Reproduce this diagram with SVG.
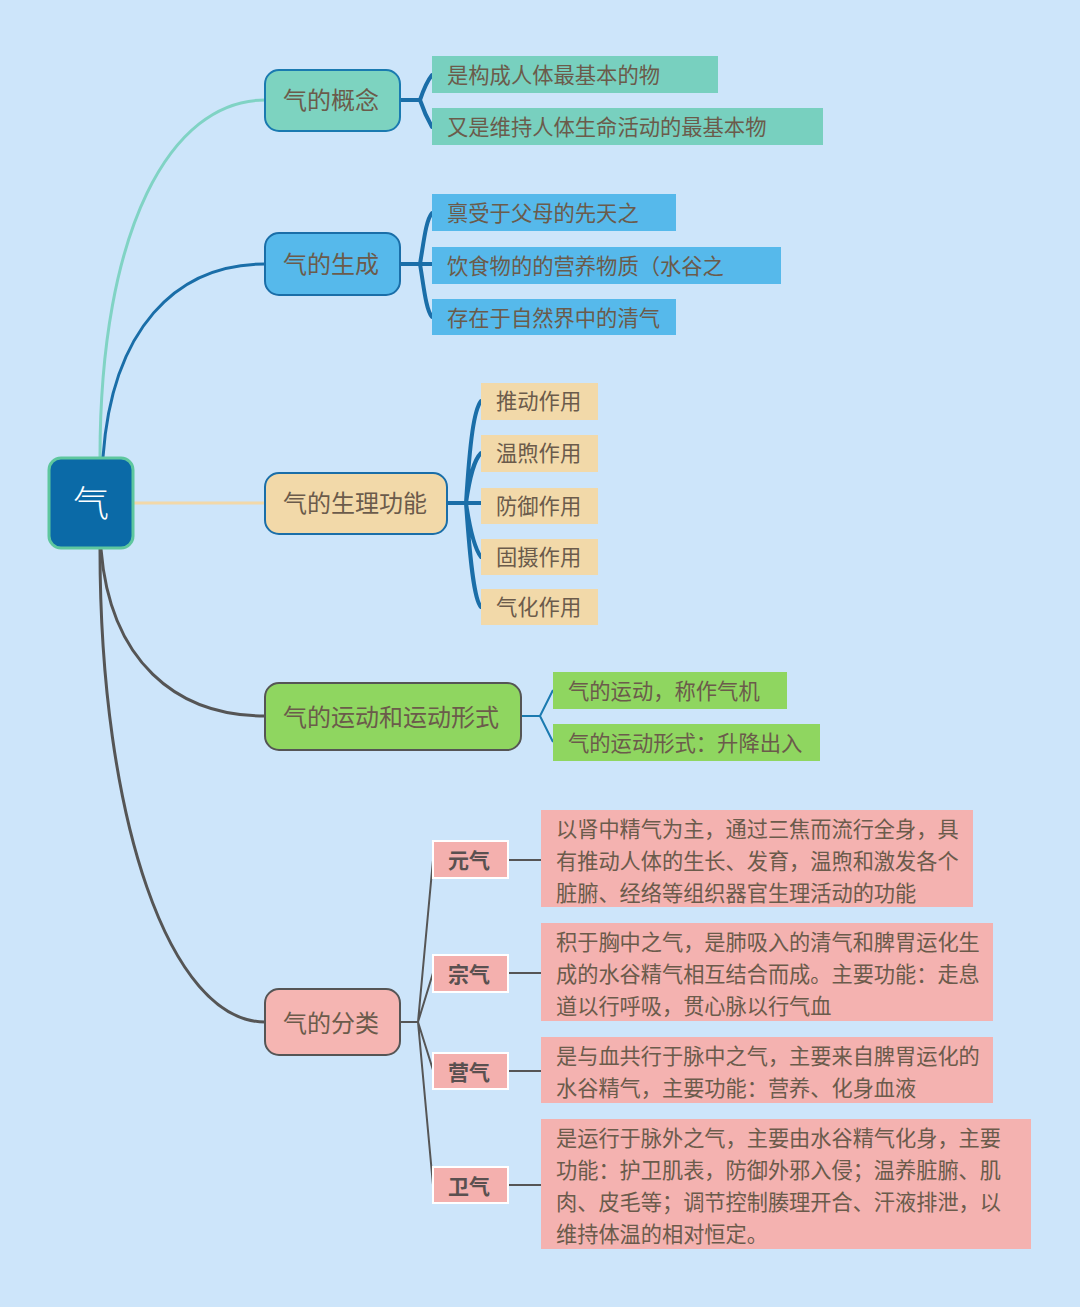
<svg xmlns="http://www.w3.org/2000/svg" width="1080" height="1307" viewBox="0 0 1080 1307">
<style>
text{font-family:"Noto Sans CJK SC","Noto Sans",sans-serif;fill:#6b5b4b;}
.n{font-size:24px;dominant-baseline:central;transform:translateY(-2px);}
.c{font-size:21.3px;dominant-baseline:central;transform:translateY(-2px);}
.d{font-size:21.2px;}
.k{font-size:21px;font-weight:bold;fill:#5a5050;dominant-baseline:central;text-anchor:middle;transform:translateY(-1px);}
.br{fill:none;stroke:#1a6ea8;stroke-width:4;stroke-linecap:round;}
.gl{fill:none;stroke:#555;stroke-width:2;}
</style>
<rect width="1080" height="1307" fill="#cde5fa"/>
<g id="connectors">
<path d="M100,457 C100,230 170,100 265,100" fill="none" stroke="#80d3c4" stroke-width="3"/>
<path d="M103,457 C112,330 175,264 265,264" fill="none" stroke="#1a6ea8" stroke-width="3"/>
<path d="M134,503 H265" fill="none" stroke="#f2d8a8" stroke-width="3"/>
<path d="M101,549 C110,660 175,716 265,716" fill="none" stroke="#555" stroke-width="3"/>
<path d="M100,549 C100,820 170,1022 265,1022" fill="none" stroke="#555" stroke-width="3"/>
<path class="br" d="M400,100 H420 M420,100 C424,88 428,80 432,75 M420,100 C424,112 428,120 432,127"/>
<path class="br" d="M400,264 H420 M420,264 C424,240 426,220 432,213 M420,264 C424,288 426,310 432,317 M420,264 H432"/>
<path class="br" d="M447,503 H466 M466,503 C470,440 474,410 481,401 M466,503 C470,475 474,460 481,453 M466,503 H481 M466,503 C470,530 474,548 481,557 M466,503 C470,560 474,600 481,607"/>
<path d="M521,716 H540 M540,716 L553,690 M540,716 L553,742" fill="none" stroke="#1a7ab0" stroke-width="2"/>
<path class="gl" d="M400,1022 H418 M418,1022 L433,860 M418,1022 L433,973 M418,1022 L433,1070 M418,1022 L433,1185"/>
<path class="gl" d="M508,860 H541 M508,973 H541 M508,1071 H541 M508,1185 H541"/>
</g>
<g id="root">
<rect x="49" y="458" width="84" height="90" rx="12" fill="#0b6aa7" stroke="#5ec79e" stroke-width="3"/>
<text x="91" y="501" font-size="36" font-weight="300" text-anchor="middle" dominant-baseline="central" style="fill:#fff">气</text>
</g>
<g id="n1">
<rect x="265" y="70" width="135" height="61" rx="14" fill="#7dd3c0" stroke="#1a7ab0" stroke-width="2"/>
<text class="n" x="283" y="100">气的概念</text>
</g>
<g id="n1a"><rect x="432" y="56" width="286" height="37" fill="#78d0bf"/><text class="c" x="447" y="75">是构成人体最基本的物</text></g>
<g id="n1b"><rect x="432" y="108" width="391" height="37" fill="#78d0bf"/><text class="c" x="447" y="127">又是维持人体生命活动的最基本物</text></g>
<g id="n2">
<rect x="265" y="233" width="135" height="62" rx="14" fill="#56b9eb" stroke="#1a6ea8" stroke-width="2"/>
<text class="n" x="283" y="264">气的生成</text>
</g>
<g id="n2a"><rect x="432" y="194" width="244" height="37" fill="#56b9eb"/><text class="c" x="447" y="213">禀受于父母的先天之</text></g>
<g id="n2b"><rect x="432" y="247" width="349" height="37" fill="#56b9eb"/><text class="c" x="447" y="266">饮食物的的营养物质（水谷之</text></g>
<g id="n2c"><rect x="432" y="299" width="244" height="36" fill="#56b9eb"/><text class="c" x="447" y="318">存在于自然界中的清气</text></g>
<g id="n3">
<rect x="265" y="473" width="182" height="61" rx="14" fill="#f2d9a9" stroke="#1a6ea8" stroke-width="2"/>
<text class="n" x="283" y="503">气的生理功能</text>
</g>
<g id="n3a"><rect x="481" y="383" width="117" height="37" fill="#f2d9a9"/><text class="c" x="496" y="401">推动作用</text></g>
<g id="n3b"><rect x="481" y="435" width="117" height="37" fill="#f2d9a9"/><text class="c" x="496" y="453">温煦作用</text></g>
<g id="n3c"><rect x="481" y="488" width="117" height="36" fill="#f2d9a9"/><text class="c" x="496" y="506">防御作用</text></g>
<g id="n3d"><rect x="481" y="539" width="117" height="36" fill="#f2d9a9"/><text class="c" x="496" y="557">固摄作用</text></g>
<g id="n3e"><rect x="481" y="589" width="117" height="36" fill="#f2d9a9"/><text class="c" x="496" y="607">气化作用</text></g>
<g id="n4">
<rect x="265" y="683" width="256" height="67" rx="14" fill="#8fd660" stroke="#555" stroke-width="2"/>
<text class="n" x="283" y="717">气的运动和运动形式</text>
</g>
<g id="n4a"><rect x="553" y="672" width="234" height="37" fill="#8fd660"/><text class="c" x="568" y="691">气的运动，称作气机</text></g>
<g id="n4b"><rect x="553" y="724" width="267" height="37" fill="#8fd660"/><text class="c" x="568" y="743">气的运动形式：升降出入</text></g>
<g id="n5">
<rect x="265" y="989" width="135" height="66" rx="14" fill="#f5b5b2" stroke="#555" stroke-width="2"/>
<text class="n" x="283" y="1023">气的分类</text>
</g>
<g id="k1"><rect x="433" y="841" width="75" height="37" fill="#f4b0ae" stroke="#fff" stroke-width="2"/><text class="k" x="469" y="860">元气</text></g>
<g id="k2"><rect x="433" y="955" width="75" height="37" fill="#f4b0ae" stroke="#fff" stroke-width="2"/><text class="k" x="469" y="974">宗气</text></g>
<g id="k3"><rect x="433" y="1053" width="75" height="36" fill="#f4b0ae" stroke="#fff" stroke-width="2"/><text class="k" x="469" y="1072">营气</text></g>
<g id="k4"><rect x="433" y="1167" width="75" height="36" fill="#f4b0ae" stroke="#fff" stroke-width="2"/><text class="k" x="469" y="1186">卫气</text></g>
<g id="t1"><rect x="541" y="810" width="432" height="97" fill="#f4b2b0"/>
<text class="d" x="556" y="837">以肾中精气为主，通过三焦而流行全身，具</text>
<text class="d" x="556" y="869">有推动人体的生长、发育，温煦和激发各个</text>
<text class="d" x="556" y="901">脏腑、经络等组织器官生理活动的功能</text></g>
<g id="t2"><rect x="541" y="923" width="452" height="98" fill="#f4b2b0"/>
<text class="d" x="556" y="950">积于胸中之气，是肺吸入的清气和脾胃运化生</text>
<text class="d" x="556" y="982">成的水谷精气相互结合而成。主要功能：走息</text>
<text class="d" x="556" y="1014">道以行呼吸，贯心脉以行气血</text></g>
<g id="t3"><rect x="541" y="1037" width="452" height="66" fill="#f4b2b0"/>
<text class="d" x="556" y="1064">是与血共行于脉中之气，主要来自脾胃运化的</text>
<text class="d" x="556" y="1096">水谷精气，主要功能：营养、化身血液</text></g>
<g id="t4"><rect x="541" y="1119" width="490" height="130" fill="#f4b2b0"/>
<text class="d" x="556" y="1146">是运行于脉外之气，主要由水谷精气化身，主要</text>
<text class="d" x="556" y="1178">功能：护卫肌表，防御外邪入侵；温养脏腑、肌</text>
<text class="d" x="556" y="1210">肉、皮毛等；调节控制腠理开合、汗液排泄，以</text>
<text class="d" x="556" y="1242">维持体温的相对恒定。</text></g>
</svg>
